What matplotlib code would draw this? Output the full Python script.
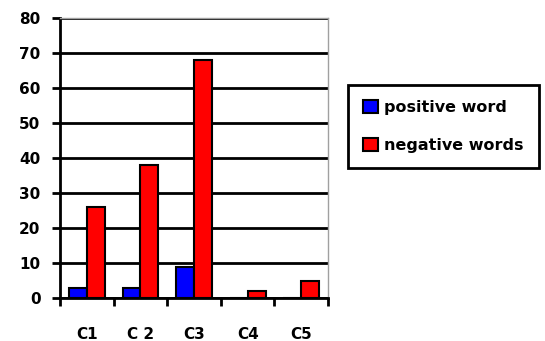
import matplotlib.pyplot as plt
import numpy as np

categories = ['C1', 'C 2', 'C3', 'C4', 'C5']
positive = [3, 3, 9, 0, 0]
negative = [26, 38, 68, 2, 5]

plt.rcParams['font.family'] = ['DejaVu Sans']
plt.rcParams['font.weight'] = 'bold'

fig = plt.figure(figsize=(5.45, 3.41), dpi=100)
ax = fig.add_axes([0.110, 0.126, 0.492, 0.821])

x = np.arange(len(categories))
w = 1 / 3
ax.bar(x - w / 2, positive, w, color='#0000ff', edgecolor='black', linewidth=1.5,
       label='positive word', zorder=3)
ax.bar(x + w / 2, negative, w, color='#ff0000', edgecolor='black', linewidth=1.5,
       label='negative words', zorder=3)

ax.set_xlim(-0.5, len(categories) - 0.5)
ax.set_ylim(0, 80)
ax.set_yticks(range(0, 81, 10))
ax.yaxis.grid(True, color='black', linewidth=2, zorder=1)

# tick marks between categories, labels at centres
ax.set_xticks(np.arange(-0.5, len(categories), 1))
ax.set_xticklabels([])
ax.set_xticks(x, minor=True)
ax.set_xticklabels(categories, minor=True, fontsize=11, fontweight='bold')
ax.tick_params(axis='x', which='minor', length=0, pad=21)
ax.tick_params(axis='x', which='major', length=6, width=2, direction='out')
ax.tick_params(axis='y', length=6, width=2, direction='out', labelsize=11, pad=8)
for lab in ax.get_yticklabels():
    lab.set_fontweight('bold')

ax.spines['left'].set_linewidth(2)
ax.spines['bottom'].set_linewidth(2)
ax.spines['top'].set_color('#a0a0a0')
ax.spines['right'].set_color('#a0a0a0')
ax.spines['top'].set_linewidth(1)
ax.spines['right'].set_linewidth(1)

leg = fig.legend(loc='upper left', bbox_to_anchor=(0.6385, 0.751), frameon=True,
                 fancybox=False, edgecolor='black', framealpha=1, fontsize=11.5,
                 handlelength=0.95, handleheight=0.9, handletextpad=0.35,
                 borderpad=0.95, labelspacing=1.4, borderaxespad=0)
leg.get_frame().set_linewidth(2)
for t in leg.get_texts():
    t.set_fontweight('bold')

fig.savefig('out.png', dpi=100)
